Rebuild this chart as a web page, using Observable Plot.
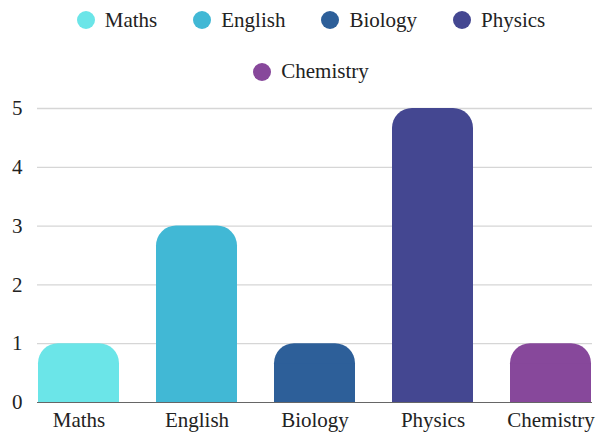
<!DOCTYPE html>
<html>
<head>
<meta charset="utf-8">
<script src="https://cdn.jsdelivr.net/npm/d3@7"></script>
<script src="https://cdn.jsdelivr.net/npm/@observablehq/plot@0.6"></script>
<style>
  html, body { margin: 0; padding: 0; background: #fff; }
  body { width: 597px; height: 438px; overflow: hidden; }
  #legend { height: 95px; box-sizing: border-box; padding-top: 7px; font-family: Liberation Serif, Times New Roman, Times, serif; }
  .row { display: flex; justify-content: center; align-items: center; margin-left: 25px; }
  .row.r1 { height: 26px; }
  .row.r2 { height: 51px; padding-top: 26px; box-sizing: border-box; }
  .item { display: flex; align-items: center; margin: 0 18px; font-size: 21px; color: #222; }
  .dot { width: 18px; height: 18px; border-radius: 50%; margin-right: 10px; }
</style>
</head>
<body>
<div id="legend"></div>
<div id="chart"></div>
<script>
const subjects = ["Maths", "English", "Biology", "Physics", "Chemistry"];
const counts = [1, 3, 1, 5, 1];
const colors = ["#6be5e8", "#41b8d5", "#2d5f99", "#444791", "#87489b"];
const yTicks = [0, 1, 2, 3, 4, 5];

const data = subjects.map((s, i) => ({subject: s, count: counts[i]}));

// legend
const legend = document.getElementById("legend");
const rows = [subjects.slice(0, 4), subjects.slice(4)];
rows.forEach((r, ri) => {
  const row = document.createElement("div");
  row.className = "row " + (ri === 0 ? "r1" : "r2");
  r.forEach(s => {
    const it = document.createElement("div");
    it.className = "item";
    const d = document.createElement("span");
    d.className = "dot";
    d.style.background = colors[subjects.indexOf(s)];
    const t = document.createElement("span");
    t.textContent = s;
    it.appendChild(d); it.appendChild(t);
    row.appendChild(it);
  });
  legend.appendChild(row);
});

const chart = Plot.plot({
  width: 597,
  height: 343,
  marginTop: 13,
  marginBottom: 36,
  marginLeft: 37,
  marginRight: 5,
  style: {fontFamily: "Liberation Serif, Times New Roman, Times, serif", fontSize: "21px", color: "#222", background: "#fff"},
  x: {domain: subjects, paddingInner: 0.316, paddingOuter: 0, label: null, tickSize: 0, tickPadding: 10},
  y: {domain: [0, 5], ticks: yTicks, tickFormat: d3.format("d"), label: null, tickSize: 0, tickPadding: 15},
  color: {domain: subjects, range: colors},
  marks: [
    Plot.ruleY(yTicks.filter(d => d > 0), {stroke: "#d6d6d6", strokeWidth: 1.3}),
    Plot.barY(data, {x: "subject", y: "count", fill: "subject", rx: 20, ry: 20}),
    Plot.barY(data, {x: "subject", y: "count", fill: "subject", insetTop: 20}),
    Plot.ruleY([0], {stroke: "#666", strokeWidth: 1.2})
  ]
});
document.getElementById("chart").appendChild(chart);
</script>
</body>
</html>
